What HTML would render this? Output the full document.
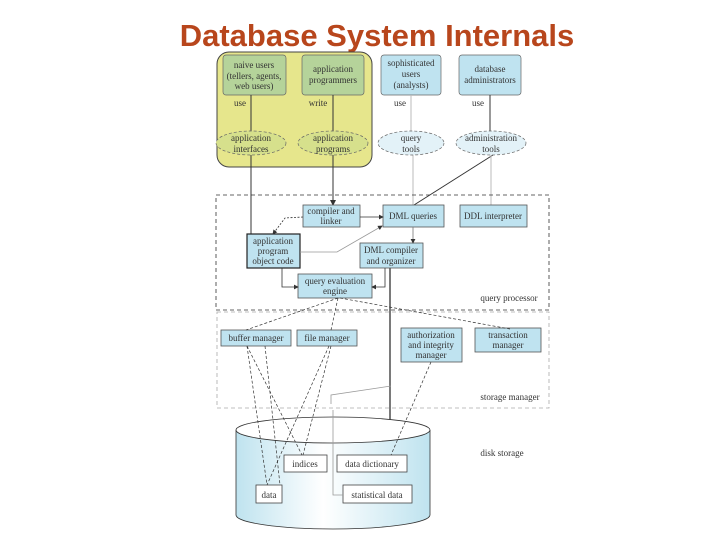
<!DOCTYPE html>
<html><head><style>
body{margin:0;width:720px;height:540px;background:#fff;overflow:hidden}
svg text{font-family:"Liberation Serif",serif;font-size:9px;fill:#333;text-anchor:middle}
</style></head><body>
<svg width="720" height="540" xmlns="http://www.w3.org/2000/svg">
<defs>
<linearGradient id="cyl" x1="0" x2="1">
<stop offset="0" stop-color="#bfe3ef"/><stop offset="0.45" stop-color="#ffffff"/><stop offset="1" stop-color="#bfe3ef"/>
</linearGradient>
<marker id="ar" markerWidth="6" markerHeight="6" refX="5" refY="3" orient="auto"><path d="M0,0L6,3L0,6z" fill="#333"/></marker>
</defs>
<text x="377" y="46" style="font-family:'Liberation Sans',sans-serif;font-size:31px;font-weight:bold;fill:#b8461c">Database System Internals</text>

<rect x="217" y="52" width="155" height="115" rx="12" fill="#e6e68c" stroke="#444" stroke-width="1"/>
<g stroke="#666" stroke-width="0.7">
<rect x="223" y="55" width="63" height="40" rx="3" fill="#b5d39a"/>
<rect x="302" y="55" width="62" height="40" rx="3" fill="#b5d39a"/>
<rect x="381" y="55" width="60" height="40" rx="3" fill="#bfe3f0"/>
<rect x="459" y="55" width="62" height="40" rx="3" fill="#bfe3f0"/>
</g>
<text x="254" y="68">naive users</text><text x="254" y="79">(tellers, agents,</text><text x="254" y="89">web users)</text>
<text x="333" y="72">application</text><text x="333" y="83">programmers</text>
<text x="411" y="66">sophisticated</text><text x="411" y="77">users</text><text x="411" y="88">(analysts)</text>
<text x="490" y="72">database</text><text x="490" y="83">administrators</text>
<text x="240" y="106">use</text><text x="318" y="106">write</text><text x="400" y="106">use</text><text x="478" y="106">use</text>

<g stroke="#333" stroke-width="1" fill="none">
<line x1="251" y1="95" x2="251" y2="131"/><line x1="333" y1="95" x2="333" y2="131"/>
<line x1="490" y1="95" x2="490" y2="131"/>
<line x1="251" y1="155" x2="251" y2="234"/><line x1="333" y1="155" x2="333" y2="205" marker-end="url(#ar)"/>
<line x1="493" y1="155" x2="414" y2="205"/>
<line x1="390" y1="268" x2="390" y2="455" stroke-width="1.3"/>
</g>
<g stroke="#bbb" stroke-width="1"><line x1="411" y1="95" x2="411" y2="131"/><line x1="413" y1="155" x2="413" y2="205"/><line x1="491" y1="155" x2="491" y2="205"/></g>
<g stroke="#666" stroke-width="0.7" stroke-dasharray="3,2">
<ellipse cx="251" cy="143" rx="35" ry="12" fill="#d6e08c"/>
<ellipse cx="333" cy="143" rx="35" ry="12" fill="#d6e08c"/>
<ellipse cx="411" cy="143" rx="33" ry="12" fill="#e3f2f8"/>
<ellipse cx="491" cy="143" rx="35" ry="12" fill="#e3f2f8"/>
</g>
<text x="251" y="141">application</text><text x="251" y="152">interfaces</text>
<text x="333" y="141">application</text><text x="333" y="152">programs</text>
<text x="411" y="141">query</text><text x="411" y="152">tools</text>
<text x="491" y="141">administration</text><text x="491" y="152">tools</text>

<rect x="216" y="195" width="333" height="115" fill="none" stroke="#333" stroke-dasharray="4,3" stroke-width="0.8"/>
<rect x="217" y="312" width="332" height="96" fill="none" stroke="#aaa" stroke-dasharray="4,3" stroke-width="0.8"/>
<text x="509" y="301">query processor</text>
<text x="510" y="400">storage manager</text>
<text x="502" y="456">disk storage</text>

<path d="M236,430 L236,515 A97,14 0 0 0 430,515 L430,430" fill="url(#cyl)" stroke="#333" stroke-width="0.8"/>
<ellipse cx="333" cy="430" rx="97" ry="13" fill="#fff" stroke="#333" stroke-width="0.8"/>

<g stroke="#555" stroke-width="0.8" fill="#bfe3f0">
<rect x="303" y="205" width="57" height="22"/>
<rect x="383" y="205" width="61" height="22"/>
<rect x="460" y="205" width="67" height="22"/>
<rect x="247" y="234" width="53" height="34" stroke="#222" stroke-width="1.2"/>
<rect x="360" y="243" width="63" height="25"/>
<rect x="298" y="274" width="74" height="24"/>
<rect x="221" y="330" width="70" height="16"/>
<rect x="297" y="330" width="60" height="16"/>
<rect x="401" y="328" width="61" height="34"/>
<rect x="475" y="328" width="66" height="24"/>
</g>
<g stroke="#444" stroke-width="0.8" fill="#fff">
<rect x="284" y="455" width="43" height="17"/>
<rect x="337" y="455" width="70" height="17"/>
<rect x="256" y="485" width="26" height="18"/>
<rect x="343" y="485" width="69" height="18"/>
</g>
<text x="331" y="214">compiler and</text><text x="331" y="224">linker</text>
<text x="413" y="219">DML queries</text>
<text x="493" y="219">DDL interpreter</text>
<text x="273" y="244">application</text><text x="273" y="254">program</text><text x="273" y="264">object code</text>
<text x="391" y="253">DML compiler</text><text x="391" y="264">and organizer</text>
<text x="335" y="284">query evaluation</text><text x="335" y="294">engine</text>
<text x="256" y="341">buffer manager</text>
<text x="327" y="341">file manager</text>
<text x="431" y="338">authorization</text><text x="431" y="348">and integrity</text><text x="431" y="358">manager</text>
<text x="508" y="338">transaction</text><text x="508" y="348">manager</text>
<text x="305" y="467">indices</text><text x="372" y="467">data dictionary</text>
<text x="269" y="498">data</text><text x="377" y="498">statistical data</text>

<g stroke="#333" stroke-width="0.8" fill="none">
<line x1="360" y1="217" x2="383" y2="217" marker-end="url(#ar)"/>
<polyline points="303,217 285,218 273,234" stroke-dasharray="2,1.5" marker-end="url(#ar)"/>
<polyline points="300,252 337,252 382,226" stroke="#999" marker-end="url(#ar)"/>
<line x1="413" y1="227" x2="413" y2="243" stroke="#777" marker-end="url(#ar)"/>
<polyline points="282,268 282,287 298,287" marker-end="url(#ar)"/>
<polyline points="385,268 385,287 372,287" marker-end="url(#ar)"/>
<polyline points="331,404 331,395 391,386" stroke="#999"/>
<polyline points="333,410 333,495 343,495" stroke="#999"/>
</g>
<g stroke="#333" stroke-width="0.7" fill="none" stroke-dasharray="3,2">
<line x1="338" y1="298" x2="246" y2="330"/>
<line x1="338" y1="298" x2="331" y2="330"/>
<line x1="340" y1="298" x2="510" y2="329"/>
<line x1="247" y1="346" x2="267" y2="485"/>
<line x1="247" y1="346" x2="302" y2="455"/>
<line x1="265" y1="346" x2="280" y2="485"/>
<line x1="331" y1="346" x2="303" y2="455"/>
<line x1="329" y1="346" x2="267" y2="485"/>
<line x1="431" y1="362" x2="391" y2="455"/>
</g>
</svg>
</body></html>
